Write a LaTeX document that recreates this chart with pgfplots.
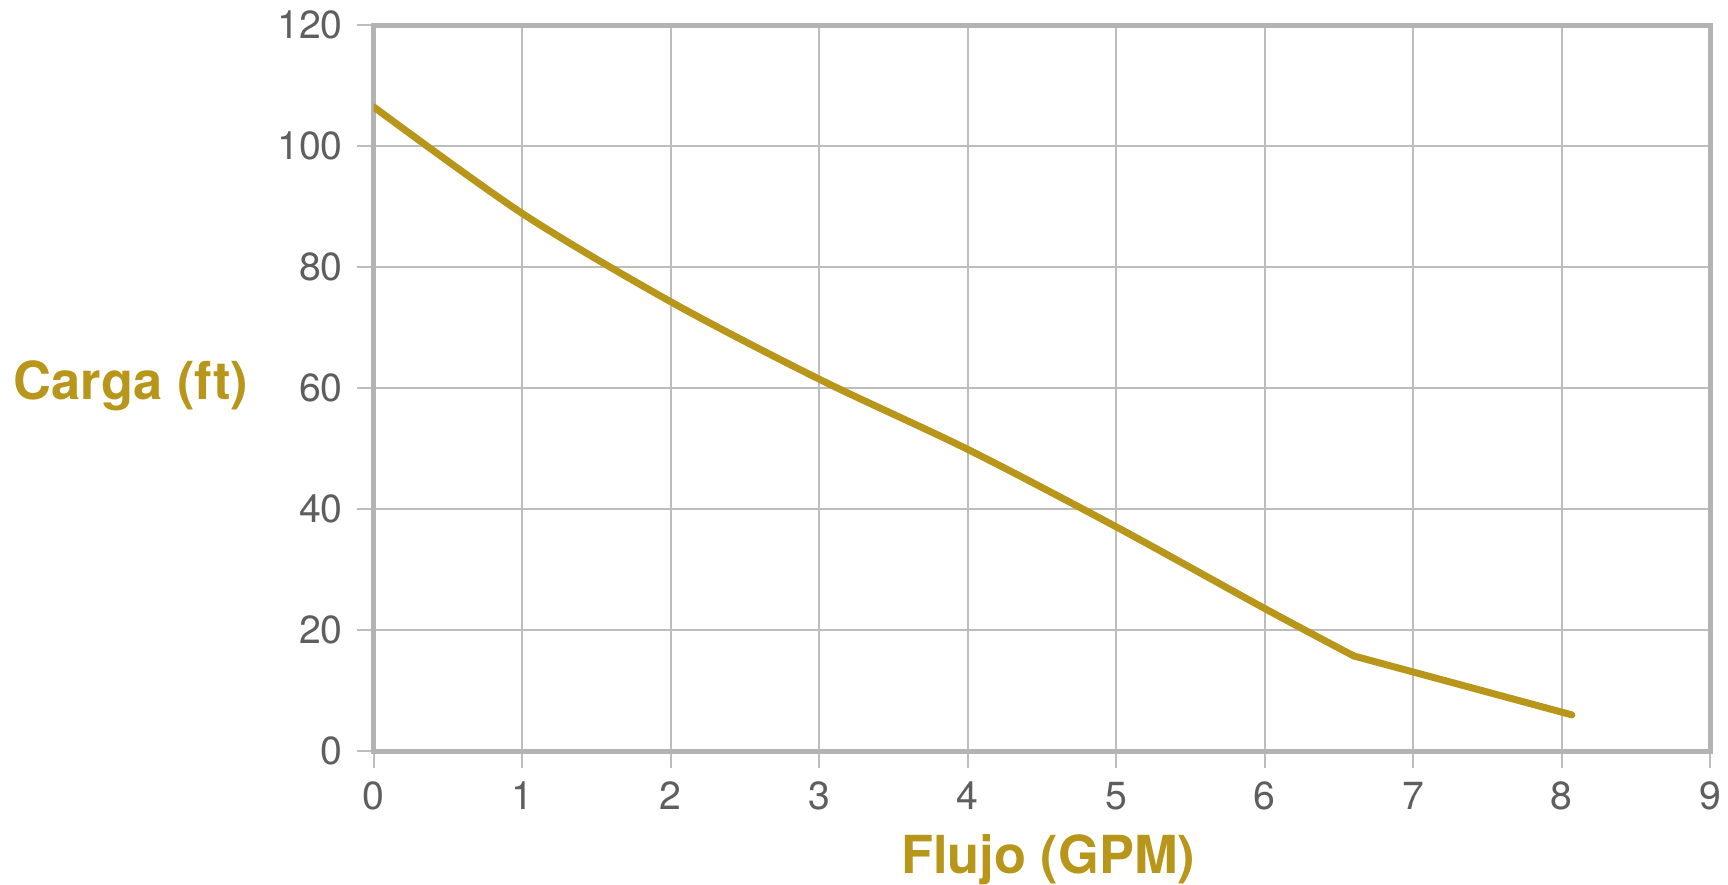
\documentclass[border=0pt]{standalone}
\usepackage{fontspec}
\setmainfont{TeX Gyre Heros}
\usepackage{pgfplots}
\pgfplotsset{compat=1.18}

\definecolor{gold}{HTML}{B7961A}
\definecolor{framegray}{HTML}{B3B3B3}
\definecolor{gridgray}{HTML}{BDBDBD}
\definecolor{ticktext}{HTML}{5E5E5E}

\begin{document}
\begin{tikzpicture}
  \begin{axis}[
      name=ax,
      scale only axis,
      width=334.1pt,
      height=181.5pt,
      xmin=0, xmax=9,
      ymin=0, ymax=120,
      xtick={0,1,...,9},
      ytick={0,20,...,120},
      grid=major,
      major grid style={color=gridgray, line width=0.5pt},
      axis line style={color=framegray, line width=1.25pt},
      tick align=outside,
      tick pos=left,
      major tick length=4.2pt,
      every tick/.style={color=gridgray, line width=0.5pt},
      /pgf/number format/assume math mode=true,
      tick label style={font=\fontsize{9.8}{11}\selectfont, color=ticktext},
      xlabel={Flujo (GPM)},
      ylabel={Carga (ft)},
      every axis x label/.style={
        at={(rel axis cs:0.5,0)}, anchor=base, inner sep=0pt,
        xshift=1.6pt, yshift=-30.5pt,
        font=\fontsize{13.1}{15}\selectfont\bfseries, color=gold},
      every axis y label/.style={
        at={(rel axis cs:0,0.5)}, anchor=base east, inner sep=0pt,
        xshift=-31.2pt, yshift=-2.9pt,
        font=\fontsize{13.1}{15}\selectfont\bfseries, color=gold},
    ]

    % pump curve: smooth part up to 6.6 GPM ...
    \addplot[color=gold, line width=1.75pt, line cap=round, line join=round,
             smooth, tension=0.5] coordinates {
      (0,106.5)
      (1,88.9)
      (2,74.3)
      (3,61.5)
      (4,49.9)
      (5,37.1)
      (6,23.6)
      (6.6,15.75)
    };
    % ... then a straight run to the end
    \addplot[color=gold, line width=1.75pt, line cap=round, line join=round] coordinates {
      (6.6,15.75)
      (8.07,6.0)
    };
  \end{axis}
  \pgfresetboundingbox
  \path[use as bounding box] ([xshift=-93.4pt,yshift=-33.4pt]ax.south west)
    rectangle ([xshift=4.5pt,yshift=6.3pt]ax.north east);
\end{tikzpicture}
\end{document}
